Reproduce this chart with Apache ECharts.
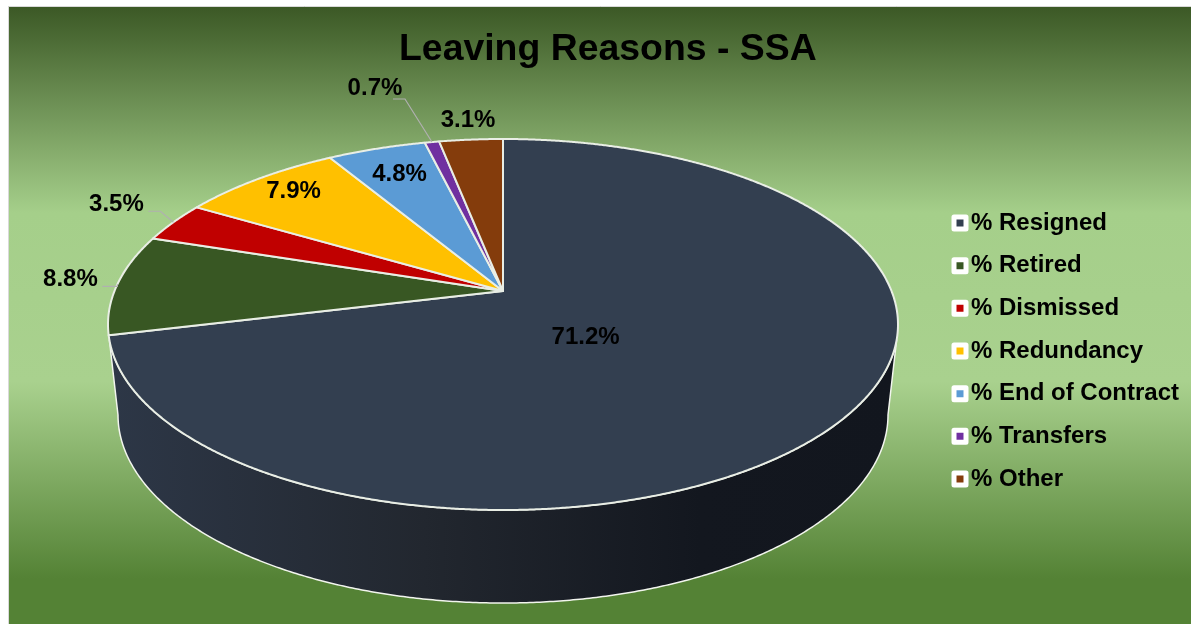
<!DOCTYPE html>
<html>
<head>
<meta charset="utf-8">
<title>Leaving Reasons - SSA</title>
<style>html,body{margin:0;padding:0;background:#fff}#chart{width:1191px;height:624px}</style>
<script src="https://cdn.jsdelivr.net/npm/echarts@6/dist/echarts.min.js"></script>
</head>
<body>
<div id="chart"></div>
<script>
const categories = ['% Resigned', '% Retired', '% Dismissed', '% Redundancy', '% End of Contract', '% Transfers', '% Other'];
const shares = [71.2, 8.8, 3.5, 7.9, 4.8, 0.7, 3.1];
const sliceColors = ['#333f50', '#385723', '#c00000', '#ffc000', '#5b9bd5', '#7030a0', '#843c0c'];

// Where each value label sits: radial fraction of the slice midline plus a pixel nudge.
const labelPlacement = [
  { r: 0.25, dx: 4, dy: 17.5 },
  { r: 1, dx: -47, dy: -5, leader: { x: 32, y: 7, run: 15 } },
  { r: 1, dx: -57, dy: -18, leader: { x: 32, y: 7, run: 12 } },
  { r: 1, dx: 35, dy: 12.5 },
  { r: 1, dx: 23, dy: 25.5 },
  { r: 1, dx: -57, dy: -54, leader: { x: 18, y: 11, run: 12 } },
  { r: 1, dx: -3, dy: -19.5 }
];

// Tilted disc: a perspective projection of the unit circle around the pie's apex.
const apex = { x: 503, y: 291 };
const persp = -0.1806, scaleX = 388.5, scaleY = 179.45;
function project(deg, r) {
  const a = deg * Math.PI / 180;
  const x = r * Math.sin(a), s = -r * Math.cos(a);
  const d = 1 + persp * s;
  return [apex.x + scaleX * x / d, apex.y + scaleY * s / d];
}
function arc(from, to) {
  const pts = [];
  const step = to >= from ? 0.25 : -0.25;
  for (let t = from; step > 0 ? t < to : t > to; t += step) pts.push(project(t, 1));
  pts.push(project(to, 1));
  return pts;
}

// Wall of the disc: front part of the top rim joined to the lower rim.
const base = { x: 503, y: 415, a: 385, b: 188 };
const wallRight = 105.08, wallLeft = 254.92;
function wallPoints() {
  const pts = arc(wallLeft, wallRight);
  for (let t = 0; t <= 180; t += 0.5) {
    const a = t * Math.PI / 180;
    pts.push([base.x + base.a * Math.cos(a), base.y + base.b * Math.sin(a)]);
  }
  return pts;
}

const total = shares.reduce((a, b) => a + b, 0);
let running = 0;
const sliceAngles = shares.map(v => {
  const start = running / total * 360;
  running += v;
  return [start, running / total * 360];
});

const labelFont = { fontFamily: 'Liberation Sans', fontWeight: 'bold', fontSize: 24, fill: '#000' };

function renderSlice(index, value) {
  const [start, end] = sliceAngles[index];
  const mid = (start + end) / 2;
  const children = [];
  if (index === 0) {
    children.push({
      type: 'polygon',
      shape: { points: wallPoints() },
      style: {
        fill: {
          type: 'linear', x: 0, y: 0, x2: 1, y2: 0,
          colorStops: [
            { offset: 0, color: '#2d3747' },
            { offset: 0.4, color: '#22272f' },
            { offset: 0.75, color: '#13171f' },
            { offset: 1, color: '#12161e' }
          ]
        },
        stroke: '#f2f5ee', lineWidth: 1.5, lineJoin: 'round'
      }
    });
  }
  children.push({
    type: 'polygon',
    shape: { points: [[apex.x, apex.y]].concat(arc(start, end)) },
    style: { fill: sliceColors[index], stroke: '#e9eee5', lineWidth: 2, lineJoin: 'round' }
  });
  const place = labelPlacement[index];
  const anchor = project(mid, place.r);
  const lx = anchor[0] + place.dx, ly = anchor[1] + place.dy;
  if (place.leader) {
    const ex = lx + place.leader.x, ey = ly + place.leader.y;
    children.push({
      type: 'polyline',
      shape: { points: [[ex, ey], [ex + place.leader.run, ey], project(mid, 1)] },
      style: { stroke: '#b0b0b0', lineWidth: 1.2, fill: null },
      z2: 5
    });
  }
  children.push({
    type: 'text',
    x: lx, y: ly,
    style: Object.assign({ text: value.toFixed(1) + '%', align: 'center', verticalAlign: 'middle' }, labelFont),
    z2: 10
  });
  return { type: 'group', children };
}

const chart = echarts.init(document.getElementById('chart'), null, { renderer: 'canvas' });
chart.setOption({
  animation: false,
  backgroundColor: '#ffffff',
  color: sliceColors,
  title: {
    text: 'Leaving Reasons - SSA',
    left: 399, top: 31, padding: 0,
    textStyle: { fontFamily: 'Liberation Sans', fontWeight: 'bold', fontSize: 37.4, color: '#000' }
  },
  legend: {
    orient: 'vertical',
    left: 951.5, top: 211, padding: 0,
    selectedMode: false,
    icon: 'rect',
    itemWidth: 12, itemHeight: 12, itemGap: 18.67,
    itemStyle: { borderColor: '#ffffff', borderWidth: 5, borderJoin: 'round' },
    textStyle: { fontFamily: 'Liberation Sans', fontWeight: 'bold', fontSize: 24, lineHeight: 24, color: '#000' },
    data: categories
  },
  graphic: [{
    type: 'rect',
    z: -10,
    shape: { x: 8.5, y: 6.5, width: 1190, height: 625 },
    style: {
      stroke: '#d9d9d9', lineWidth: 1,
      fill: {
        type: 'linear', x: 0, y: 0, x2: 0, y2: 1,
        colorStops: [
          { offset: 0, color: '#3b5825' },
          { offset: 0.33, color: '#a5cf8a' },
          { offset: 0.6, color: '#a9d18e' },
          { offset: 0.915, color: '#548235' },
          { offset: 1, color: '#548235' }
        ]
      }
    }
  }],
  series: categories.map((name, i) => ({
    type: 'custom',
    name,
    coordinateSystem: 'none',
    silent: true,
    clip: false,
    itemStyle: { color: sliceColors[i] },
    data: [shares[i]],
    renderItem: (params, api) => renderSlice(i, api.value(0))
  }))
});
</script>
</body>
</html>
